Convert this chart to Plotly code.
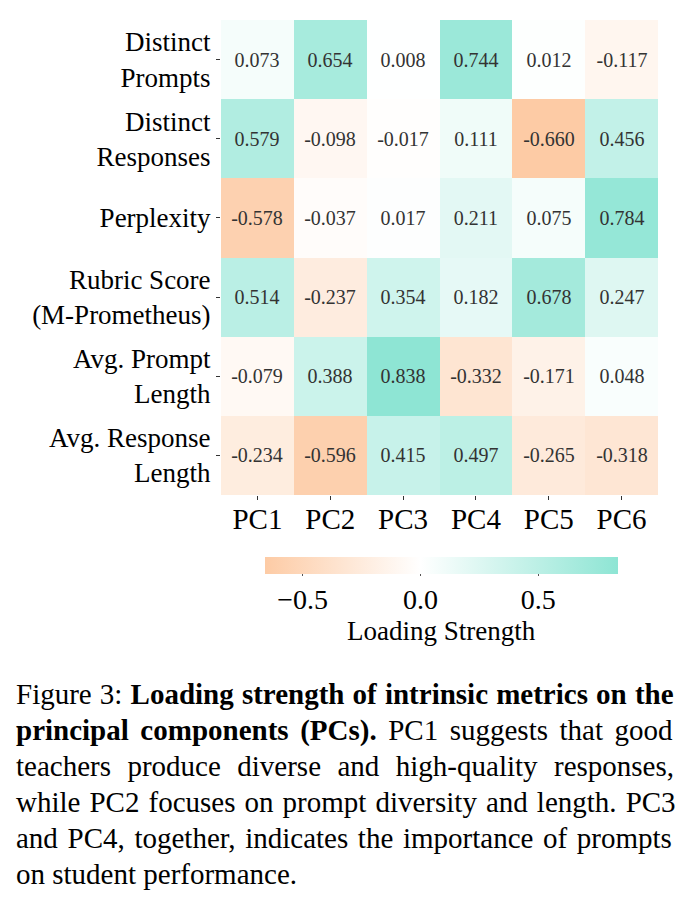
import plotly.graph_objects as go

metrics = ["Distinct<br>Prompts", "Distinct<br>Responses", "Perplexity",
           "Rubric Score<br>(M-Prometheus)", "Avg. Prompt<br>Length",
           "Avg. Response<br>Length"]
components = ["PC1", "PC2", "PC3", "PC4", "PC5", "PC6"]
loadings = [
    [0.073, 0.654, 0.008, 0.744, 0.012, -0.117],
    [0.579, -0.098, -0.017, 0.111, -0.660, 0.456],
    [-0.578, -0.037, 0.017, 0.211, 0.075, 0.784],
    [0.514, -0.237, 0.354, 0.182, 0.678, 0.247],
    [-0.079, 0.388, 0.838, -0.332, -0.171, 0.048],
    [-0.234, -0.596, 0.415, 0.497, -0.265, -0.318],
]
cb_ticks = [-0.5, 0.0, 0.5]
cb_ticklabels = ["\u22120.5", "0.0", "0.5"]
cb_title = "Loading Strength"

caption_lines = [
    "Figure 3: <b>Loading strength of intrinsic metrics on the</b>",
    "<b>principal components (PCs).</b> PC1 suggests that good",
    "teachers produce diverse and high-quality responses,",
    "while PC2 focuses on prompt diversity and length. PC3",
    "and PC4, together, indicates the importance of prompts",
    "on student performance.",
]
# extra word spacing (px) to emulate justified text
caption_wordspacing = [0.9, 4.3, 9.2, 1.8, 2.4, 0]

zmin = min(min(r) for r in loadings)
zmax = max(max(r) for r in loadings)
mid = (0 - zmin) / (zmax - zmin)

FONT = "Liberation Serif, Times New Roman, serif"
W, H = 691, 907
L, R, T, B = 221, 33, 20, 412
pw, ph = W - L - R, H - T - B

def px2x(px):
    return (px - L) / pw

def py2y(py):
    return (T + ph - py) / ph

fig = go.Figure(go.Heatmap(
    z=loadings, x=components, y=metrics,
    zmin=zmin, zmax=zmax,
    colorscale=[[0, "rgb(253,203,165)"], [mid, "rgb(255,255,255)"], [1, "rgb(142,229,212)"]],
    texttemplate="%{z:.3f}",
    textfont=dict(family=FONT, size=20, color="#333333"),
    xgap=0, ygap=0,
    colorbar=dict(
        orientation="h", x=px2x(441.5), xanchor="center",
        y=py2y(557), yanchor="top", xpad=0, ypad=0,
        len=(618 - 265) / pw, lenmode="fraction", thickness=17,
        outlinewidth=0,
        tickvals=cb_ticks, ticktext=cb_ticklabels,
        ticks="outside", ticklen=2, tickcolor="#555",
        tickfont=dict(family=FONT, size=28, color="black"),
    ),
))

fig.add_annotation(
    text=cb_title, xref="paper", yref="paper",
    x=px2x(441.5), y=py2y(631), xanchor="center", yanchor="middle",
    showarrow=False, font=dict(family=FONT, size=27, color="black"),
)

for i, (line, ws) in enumerate(zip(caption_lines, caption_wordspacing)):
    fig.add_annotation(
        text=f"<span style='word-spacing:{ws}px'>{line}</span>",
        xref="paper", yref="paper",
        x=px2x(14), y=py2y(694 + 36 * i),
        xanchor="left", yanchor="middle", showarrow=False,
        font=dict(family=FONT, size=29, color="black"),
    )

fig.update_layout(
    width=W, height=H,
    margin=dict(l=L, r=R, t=T, b=B),
    paper_bgcolor="white", plot_bgcolor="white",
    font=dict(family=FONT, color="black"),
    xaxis=dict(side="bottom", ticks="outside", ticklen=4, tickcolor="#333",
               ticklabelstandoff=-6,
               tickfont=dict(family=FONT, size=29), showgrid=False, zeroline=False),
    yaxis=dict(autorange="reversed", ticks="outside", ticklen=4, tickcolor="#333",
               tickfont=dict(family=FONT, size=27), showgrid=False, zeroline=False),
)

fig.write_html("out.html")
